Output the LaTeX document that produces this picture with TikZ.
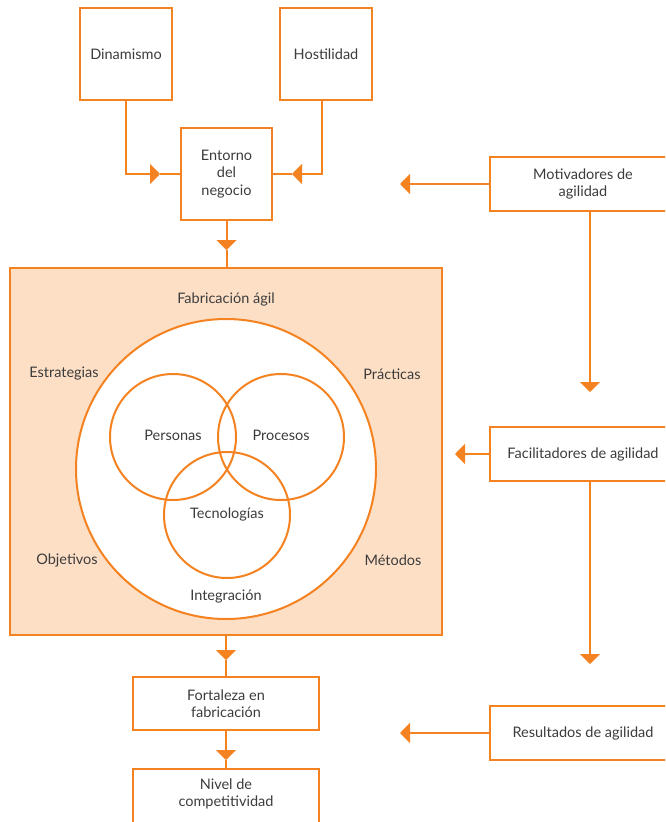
\documentclass[tikz,border=0pt]{standalone}
\usepackage{fontspec}
\setmainfont{Lato}
\usetikzlibrary{arrows.meta,positioning,calc}
\definecolor{org}{HTML}{F58220}
\definecolor{peach}{HTML}{FDDFC6}
\definecolor{txt}{HTML}{3C3C3C}
\begin{document}
\begin{tikzpicture}[x=1pt,y=-1pt,
  font=\fontsize{14.5}{17.5}\selectfont, text=txt,
  box/.style={draw=org, line width=2pt, fill=white, align=center, inner sep=0pt},
  ln/.style={draw=org, line width=2pt},
  arr/.style={ln, -{Triangle[length=10pt,width=20pt]}},
  lbl/.style={inner sep=0pt, align=center}]
\useasboundingbox (0,0) rectangle (665,822);
\clip (0,0) rectangle (665,822);
% big area
\node[box, fill=peach, minimum width=432pt, minimum height=367pt] (big) at (226,451.5) {};
\draw[ln, fill=white] (226,469) circle (150);
\node[circle, draw=org, line width=2pt, minimum size=126pt, inner sep=0pt] (pers) at (173,437) {};
\node[circle, draw=org, line width=2pt, minimum size=126pt, inner sep=0pt] (proc) at (281,437) {};
\node[circle, draw=org, line width=2pt, minimum size=126pt, inner sep=0pt] (tecn) at (227,515) {};
\node[lbl] (lpers) at (173,435) {Personas};
\node[lbl] (lproc) at (281,435) {Procesos};
\node[lbl] (ltecn) at (227,514) {Tecnologías};
\node[lbl] (fab) at (226,299) {Fabricación ágil};
\node[lbl] (est) at (64,374) {Estrategias};
\node[lbl] (pra) at (392,374) {Prácticas};
\node[lbl] (obj) at (67,560) {Objetivos};
\node[lbl] (met) at (393,560) {Métodos};
\node[lbl] (integ) at (226,597) {Integración};
% top boxes
\node[box, minimum width=92pt, minimum height=92pt] (dyn) at (126,54) {Dinamismo};
\node[box, minimum width=92pt, minimum height=92pt] (host) at (326,54) {Hostilidad};
\node[box, minimum width=91pt, minimum height=92pt] (ent) at (226.5,174) {Entorno\\del\\negocio};
% bottom boxes
\node[box, minimum width=186pt, minimum height=53pt] (fort) at (226,703.5) {Fortaleza en\\fabricación};
\node[box, minimum width=186pt, minimum height=56pt] (niv) at (226,797) {};
\node[lbl] (nivt) at (226,794) {Nivel de\\competitividad};
% right boxes
\node[box, minimum width=186pt, minimum height=54pt] (mot) at (583,184) {Motivadores de\\agilidad};
\node[box, minimum width=186pt, minimum height=54pt] (fac) at (583,454) {Facilitadores de agilidad};
\node[box, minimum width=186pt, minimum height=54pt] (res) at (583,733) {Resultados de agilidad};
% coordinates
\coordinate (c1) at (160,174);
\coordinate (c2) at (292,174);
\coordinate (c3) at (226.5,250);
\coordinate (c4) at (226,660);
\coordinate (c5) at (226,760);
\coordinate (m1) at (400,184);
\coordinate (f1) at (455,454);
\coordinate (r1) at (400,733);
\coordinate (mv) at (590,392);
\coordinate (fv) at (590,664);
% connectors
\draw[arr] (dyn.south) |- (c1);
\draw[ln] (c1) -- (ent.west);
\draw[arr] ($(host.south)+(-4,0)$) |- (c2);
\draw[ln] (c2) -- (ent.east);
\draw[arr] (ent.south) -- (c3);
\draw[ln] (c3) -- (ent.south |- big.north);
\draw[arr] (big.south -| c4) -- (c4);
\draw[ln] (c4) -- (fort.north);
\draw[arr] (fort.south) -- (c5);
\draw[ln] (c5) -- (niv.north);
\draw[arr] (mot.west) -- (m1);
\draw[arr] (fac.west) -- (f1);
\draw[arr] (res.west) -- (r1);
\draw[arr] (mot.south -| mv) -- (mv);
\draw[arr] (fac.south -| fv) -- (fv);
\end{tikzpicture}
\end{document}
